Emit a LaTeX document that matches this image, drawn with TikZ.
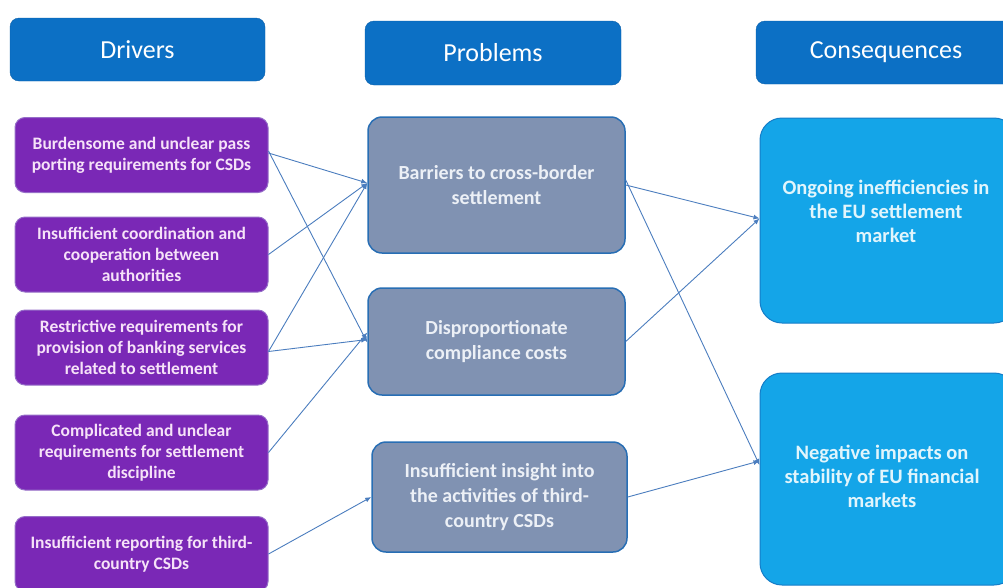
\documentclass[tikz,border=0pt]{standalone}
\usepackage{fontspec}
\setmainfont{Carlito}
\usetikzlibrary{arrows.meta}
\definecolor{hdrblue}{RGB}{12,112,197}
\definecolor{hdrborder}{RGB}{10,95,170}
\definecolor{drvfill}{RGB}{122,40,182}
\definecolor{drvborder}{RGB}{150,110,200}
\definecolor{drvtext}{RGB}{246,226,248}
\definecolor{prbfill}{RGB}{128,146,178}
\definecolor{prbborder}{RGB}{40,110,180}
\definecolor{prbtext}{RGB}{236,240,246}
\definecolor{cnsfill}{RGB}{20,165,232}
\definecolor{cnsborder}{RGB}{20,125,200}
\definecolor{cnstext}{RGB}{225,245,252}
\definecolor{arrowcol}{RGB}{75,125,190}
\tikzset{
  hdr/.style={draw=hdrborder, fill=hdrblue, rounded corners=9pt, text=white,
    font=\fontsize{26}{30}\selectfont, inner sep=0pt},
  drv/.style={draw=drvborder, line width=1pt, fill=drvfill, rounded corners=10pt, text=drvtext,
    font=\bfseries\fontsize{17.5}{21}\selectfont, align=center, inner sep=0pt,
    minimum width=253pt, minimum height=75pt},
  prb/.style={draw=prbborder, line width=1.5pt, fill=prbfill, rounded corners=14pt, text=prbtext,
    font=\bfseries\fontsize{20}{25}\selectfont, align=center, inner sep=0pt},
  cns/.style={draw=cnsborder, line width=1pt, fill=cnsfill, rounded corners=22pt, inner sep=0pt},
  cnstxt/.style={text=cnstext, font=\bfseries\fontsize{20.5}{24}\selectfont, align=center, inner sep=0pt},
  conn/.style={draw=arrowcol, line width=0.9pt, -{Latex[length=6pt,width=5pt]}}
}
\begin{document}
\begin{tikzpicture}[x=1pt,y=-1pt]
\useasboundingbox (0,0) rectangle (1003,587);
% headers
\node[hdr, minimum width=255pt, minimum height=63pt] (hd) at (137.5,49.5) {Drivers};
\node[hdr, minimum width=256pt, minimum height=64pt] (hp) at (493,53) {Problems};
\node[hdr, minimum width=260pt, minimum height=63pt] (hc) at (886,52.5) {Consequences};
% drivers
\node[drv] (d1) at (141.5,155) {Burdensome and unclear pass\\porting requirements for CSDs};
\node[drv] (d2) at (141.5,254.5) {Insufficient coordination and\\cooperation between\\authorities};
\node[drv] (d3) at (141.5,347.5) {Restrictive requirements for\\provision of banking services\\related to settlement};
\node[drv] (d4) at (141.5,452.5) {Complicated and unclear\\requirements for settlement\\discipline};
\node[drv] (d5) at (141.5,554) {Insufficient reporting for third-\\country CSDs};
% problems
\node[prb, minimum width=257pt, minimum height=136pt] (p1) at (496.5,185) {Barriers to cross-border\\settlement};
\node[prb, minimum width=257pt, minimum height=107pt] (p2) at (496.5,341.5) {Disproportionate\\compliance costs};
\node[prb, minimum width=255pt, minimum height=110pt] (p3) at (499.5,497) {Insufficient insight into\\the activities of third-\\country CSDs};
% consequences
\node[cns, minimum width=256pt, minimum height=205pt] (c1) at (888,220.5) {};
\node[cns, minimum width=256pt, minimum height=212pt] (c2) at (888,479) {};
\node[cnstxt] (c1t) at (886,211) {Ongoing inefficiencies in\\the EU settlement\\market};
\node[cnstxt] (c2t) at (882,476) {Negative impacts on\\stability of EU financial\\markets};
% connectors drivers -> problems
\draw[conn] ([yshift=2pt]d1.east) -- ([yshift=2pt]p1.west);
\draw[conn] ([yshift=4pt]d1.east) -- ([yshift=-1pt]p2.west);
\draw[conn] (d2.east) -- ([yshift=2pt]p1.west);
\draw[conn] ([yshift=-4pt]d3.east) -- ([yshift=2pt]p1.west);
\draw[conn] ([yshift=-4pt]d3.east) -- ([yshift=2pt]p2.west);
\draw[conn] (d4.east) -- ([yshift=9pt]p2.west);
\draw[conn] (d5.east) -- (p3.west);
% connectors problems -> consequences
\draw[conn] (p1.east) -- ([yshift=2pt]c1.west);
\draw[conn] ([yshift=5pt]p1.east) -- ([yshift=14pt]c2.west);
\draw[conn] (p2.east) -- ([yshift=2pt]c1.west);
\draw[conn] (p3.east) -- ([yshift=18pt]c2.west);
\end{tikzpicture}
\end{document}
